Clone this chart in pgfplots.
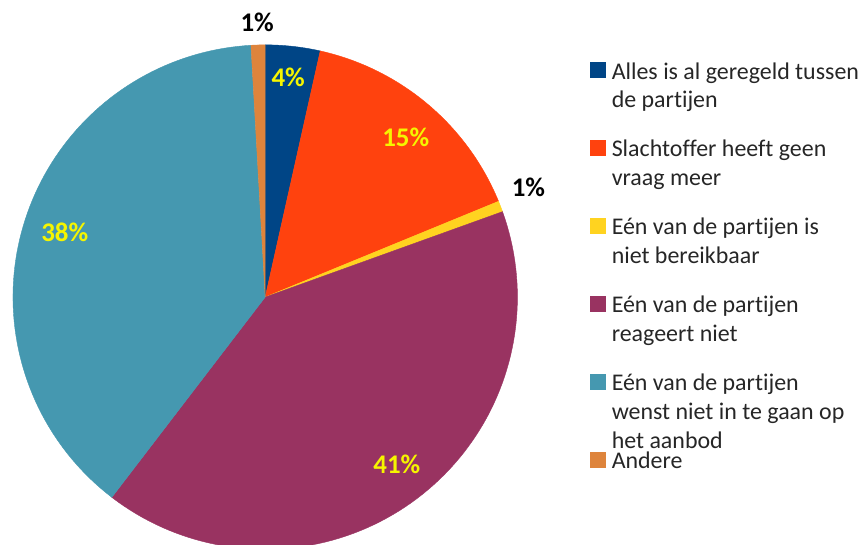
\documentclass[border=0pt]{standalone}
\usepackage{pgfplots}
\pgfplotsset{compat=1.18}
\usepackage{fontspec}
\setmainfont{Carlito}[Ligatures=NoCommon]
\definecolor{cBlue}{RGB}{0,69,134}
\definecolor{cRed}{RGB}{255,66,14}
\definecolor{cYellow}{RGB}{255,211,32}
\definecolor{cPurple}{RGB}{153,51,97}
\definecolor{cTeal}{RGB}{69,152,176}
\definecolor{cOrange}{RGB}{222,132,60}
\definecolor{cLab}{RGB}{245,245,0}
\definecolor{cTxt}{RGB}{38,38,38}
% slice: start percent, value percent, colour
\newcommand{\slice}[3]{%
  \addplot[fill=#3, draw=#3, line width=0.4pt, domain={90-3.6*(#1+#2)}:{90-3.6*(#1)},
    samples=90, variable=\t]
    ({266+253*cos(\t)},{248+253*sin(\t)}) -- (axis cs:266,248) -- cycle;
}
\newcommand{\lent}[1]{\smash{\raisebox{14pt}{\parbox[t]{252pt}{\raggedright\fontsize{24pt}{29pt}\selectfont\color{cTxt}#1}}}}
\begin{document}
\begin{tikzpicture}
\begin{axis}[
  scale only axis, width=863pt, height=546pt,
  xmin=0, xmax=863, ymin=0, ymax=546,
  axis line style={draw=none}, ticks=none,
  clip=true,
  legend style={at={(axis cs:592,484)}, anchor=north west, draw=none, fill=none,
    inner sep=0pt, row sep=62.2pt, column sep=6pt, nodes={inner sep=0pt}},
  legend cell align=left,
  legend image code/.code={\fill[#1] (0pt,0pt) rectangle (15pt,15pt);},
]
\slice{0}{3.5}{cBlue}
\addlegendentry{\lent{Alles is al geregeld tussen\\de partijen}}
\slice{3.5}{15.3}{cRed}
\addlegendentry{\lent{Slachtoffer heeft geen\\vraag meer}}
\slice{18.8}{0.7}{cYellow}
\addlegendentry{\lent{Eén van de partijen is\\niet bereikbaar}}
\slice{19.5}{40.9}{cPurple}
\addlegendentry{\lent{Eén van de partijen\\reageert niet}}
\slice{60.4}{38.7}{cTeal}
\addlegendentry{\lent{Eén van de partijen\\wenst niet in te gaan op\\het aanbod}}
\slice{99.1}{0.9}{cOrange}
\addlegendentry{\lent{Andere}}
\node[font=\fontsize{27pt}{30pt}\selectfont\bfseries, text=black] at (axis cs:258,524) {1\%};
\node[font=\fontsize{27pt}{30pt}\selectfont\bfseries, text=cLab] at (axis cs:289,468) {4\%};
\node[font=\fontsize{27pt}{30pt}\selectfont\bfseries, text=cLab] at (axis cs:407,408) {15\%};
\node[font=\fontsize{27pt}{30pt}\selectfont\bfseries, text=black] at (axis cs:530,358) {1\%};
\node[font=\fontsize{27pt}{30pt}\selectfont\bfseries, text=cLab] at (axis cs:398,80) {41\%};
\node[font=\fontsize{27pt}{30pt}\selectfont\bfseries, text=cLab] at (axis cs:65,313) {38\%};
\end{axis}
\end{tikzpicture}
\end{document}
